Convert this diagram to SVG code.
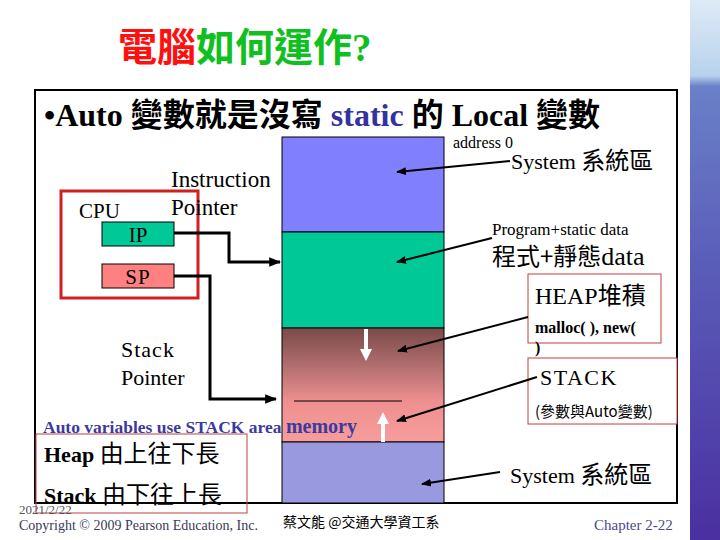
<svg xmlns="http://www.w3.org/2000/svg" width="720" height="540" viewBox="0 0 720 540">
<defs>
<linearGradient id="stackGrad" x1="0" y1="0" x2="0" y2="1">
<stop offset="0" stop-color="#7a4a4a"/>
<stop offset="0.35" stop-color="#b57070"/>
<stop offset="0.65" stop-color="#ef9090"/>
<stop offset="1" stop-color="#f79c9c"/>
</linearGradient>
<linearGradient id="strip" x1="0" y1="0" x2="0" y2="1">
<stop offset="0" stop-color="#dfeaf6"/>
<stop offset="0.14" stop-color="#b8d2ec"/>
<stop offset="0.16" stop-color="#6a80c8"/>
<stop offset="0.5" stop-color="#5a5cb8"/>
<stop offset="1" stop-color="#4a30a0"/>
</linearGradient>
<marker id="ah" viewBox="0 0 10 10" refX="9" refY="5" markerWidth="4" markerHeight="4" orient="auto" markerUnits="strokeWidth">
<path d="M0,1 L10,5 L0,9 Z" fill="#000"/>
</marker>
<marker id="ahs" viewBox="0 0 10 10" refX="9" refY="5" markerWidth="5" markerHeight="5" orient="auto" markerUnits="strokeWidth">
<path d="M0,1 L10,5 L0,9 Z" fill="#000"/>
</marker>
</defs>
<style>
.serif{font-family:"Liberation Serif","Noto Sans CJK TC",serif;}
.b{font-weight:bold;}
.cjk{font-family:"Noto Sans CJK TC","Liberation Serif",sans-serif;}
.conn{fill:none;stroke:#000;stroke-width:3;}
.lbl{fill:none;stroke:#000;stroke-width:2;}
.redbox{fill:#fff;stroke:#c04040;stroke-width:1;}
</style>
<rect x="0" y="0" width="720" height="540" fill="#fff"/>
<rect x="690" y="0" width="30" height="540" fill="url(#strip)"/>

<g id="title">
<text x="118" y="61" font-size="39" class="cjk b"><tspan fill="#ff1010">電腦</tspan><tspan fill="#10c020">如何運作</tspan><tspan class="serif" fill="#10c020">?</tspan></text>
</g>

<g id="frame">
<rect x="35" y="90" width="642" height="413" fill="none" stroke="#000" stroke-width="2"/>
<text x="44" y="126" font-size="32" class="serif b" fill="#000">•Auto <tspan class="cjk">變數就是沒寫</tspan> <tspan fill="#3333a0">static</tspan> <tspan class="cjk">的</tspan> Local <tspan class="cjk">變數</tspan></text>
</g>

<g id="memory">
<rect x="282" y="137" width="162" height="95" fill="#8080ff" stroke="#000" stroke-width="1"/>
<rect x="282" y="232" width="162" height="96" fill="#00c896" stroke="#000" stroke-width="1"/>
<rect x="282" y="328" width="162" height="114" fill="url(#stackGrad)" stroke="#000" stroke-width="1"/>
<rect x="282" y="442" width="162" height="61" fill="#9999e0" stroke="#000" stroke-width="1"/>
<line x1="294" y1="401" x2="402" y2="401" stroke="#000" stroke-width="1"/>
<path d="M364,329 L368,329 L368,349 L372,349 L366,361 L360,349 L364,349 Z" fill="#fff"/>
<path d="M381,442 L385,442 L385,424 L389,424 L383,412 L377,424 L381,424 Z" fill="#fff"/>
</g>

<g id="cpu">
<rect x="61" y="191" width="137" height="107" fill="none" stroke="#d02020" stroke-width="3"/>
<text x="79" y="218" font-size="21" class="serif">CPU</text>
</g>
<g id="ip">
<rect x="102" y="222" width="72" height="24" fill="#00c896" stroke="#000" stroke-width="1"/>
<text x="138" y="242" font-size="21" class="serif" text-anchor="middle">IP</text>
</g>
<g id="sp">
<rect x="102" y="264" width="72" height="24" fill="#ff8080" stroke="#000" stroke-width="1"/>
<text x="138" y="284" font-size="21" class="serif" text-anchor="middle" letter-spacing="1">SP</text>
</g>

<g id="labels">
<text x="171" y="187" font-size="23" class="serif">Instruction</text>
<text x="171" y="215" font-size="23" class="serif">Pointer</text>
<text x="121" y="357" font-size="22" class="serif" letter-spacing="1">Stack</text>
<text x="121" y="385" font-size="22" class="serif">Pointer</text>
<text x="453" y="148" font-size="16" class="serif">address 0</text>
<text x="511" y="169" font-size="22" class="serif">System <tspan class="cjk" font-size="24">系統區</tspan></text>
<text x="492" y="235" font-size="17" class="serif">Program+static data</text>
<text x="492" y="265" font-size="26" class="serif"><tspan class="cjk" font-size="24">程式+靜態</tspan>data</text>
<text x="510" y="483" font-size="22" class="serif">System <tspan class="cjk" font-size="24">系統區</tspan></text>
<text x="43" y="433" font-size="17.5" class="serif b" fill="#3a3aa0">Auto variables use STACK area <tspan font-size="20">memory</tspan></text>
</g>

<g id="heap">
<rect x="528" y="274" width="133" height="69" class="redbox"/>
<text x="535" y="304" font-size="24" class="serif">HEAP<tspan class="cjk">堆積</tspan></text>
<text x="535" y="333" font-size="16" class="serif b">malloc( ), new(</text>
<text x="535" y="353" font-size="16" class="serif b">)</text>
</g>

<g id="stack">
<rect x="528" y="358" width="149" height="66" class="redbox"/>
<text x="540" y="385" font-size="22" class="serif" letter-spacing="1.5">STACK</text>
<text x="535" y="417" font-size="15" class="cjk">(參數與Auto變數)</text>
</g>

<g id="growth">
<rect x="36" y="434" width="211" height="79" fill="none" stroke="#c04040" stroke-width="1"/>
<text x="44" y="462" font-size="22" class="serif b">Heap <tspan class="cjk" font-weight="normal" font-size="24">由上往下長</tspan></text>
<text x="44" y="503" font-size="22" class="serif b">Stack <tspan class="cjk" font-weight="normal" font-size="24">由下往上長</tspan></text>
</g>

<g id="connectors">
<polyline points="174,233 229,233 229,262 280,262" class="conn" marker-end="url(#ah)"/>
<polyline points="174,276 210,276 210,399 276,399" class="conn" marker-end="url(#ah)"/>
<line x1="510" y1="161" x2="397" y2="172" class="lbl" marker-end="url(#ahs)"/>
<line x1="492" y1="238" x2="397" y2="262" class="lbl" marker-end="url(#ahs)"/>
<line x1="528" y1="317" x2="398" y2="351" class="lbl" marker-end="url(#ahs)"/>
<line x1="537" y1="377" x2="397" y2="421" class="lbl" marker-end="url(#ahs)"/>
<line x1="500" y1="472" x2="422" y2="484" class="lbl" marker-end="url(#ahs)"/>
</g>

<g id="footer">
<text x="19" y="514" font-size="13" class="serif" fill="#555">2021/2/22</text>
<text x="19" y="530" font-size="14" class="serif" fill="#3a3a5a">Copyright © 2009 Pearson Education, Inc.</text>
<text x="283" y="527" font-size="14" class="cjk">蔡文能 @交通大學資工系</text>
<text x="594" y="530" font-size="15" class="serif" fill="#4a4a8a">Chapter 2-22</text>
</g>
</svg>
